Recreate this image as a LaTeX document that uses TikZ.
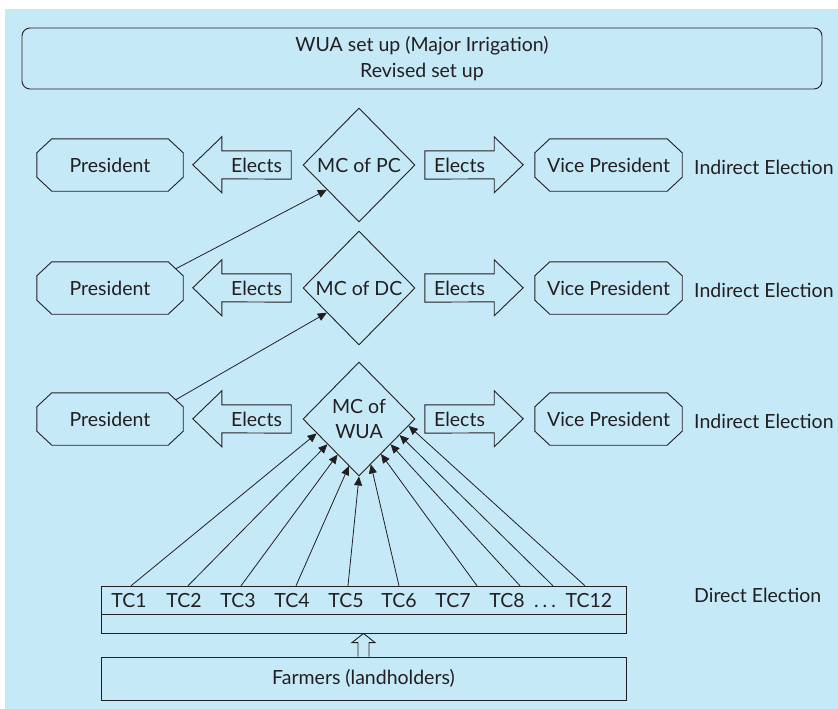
\documentclass[tikz,border=0pt]{standalone}
\usepackage{fontspec}
\setmainfont{Lato}
\usetikzlibrary{calc,shapes.geometric,arrows.meta}

\definecolor{bgblue}{RGB}{198,233,248}
\definecolor{ink}{RGB}{35,31,32}

% octagonal box drawn around a rectangular node
\newcommand\octbox[1]{%
  \draw[outline] ([xshift=15pt]#1.north west) -- ([xshift=-15pt]#1.north east)
    -- ([yshift=-14pt]#1.north east) -- ([yshift=14pt]#1.south east)
    -- ([xshift=-15pt]#1.south east) -- ([xshift=15pt]#1.south west)
    -- ([yshift=14pt]#1.south west) -- ([yshift=-14pt]#1.north west) -- cycle;}

% block arrow pointing left, built on the label node
\newcommand\leftblock[1]{%
  \draw[outline] (#1.north east) -- (#1.north west) -- ++(0,-14) -- ++(-29,28)
    -- ++(29,28) -- ++(0,-14) -- (#1.south east) -- cycle;}
% block arrow pointing right, built on the label node
\newcommand\rightblock[1]{%
  \draw[outline] (#1.north west) -- (#1.north east) -- ++(0,-14) -- ++(29,28)
    -- ++(-29,28) -- ++(0,-14) -- (#1.south west) -- cycle;}

\begin{document}
\begin{tikzpicture}[x=1pt,y=-1pt,
  every node/.style={text=ink,font=\fontsize{19.5}{22}\selectfont},
  outline/.style={draw=ink,line width=0.9pt,line join=miter},
  person/.style={minimum width=146pt,minimum height=52pt,inner sep=0pt,text height=14pt,text depth=0pt},
  blocklabel/.style={minimum width=69pt,minimum height=28pt,inner sep=0pt},
  council/.style={diamond,draw=ink,line width=0.9pt,minimum width=112pt,minimum height=114pt,inner sep=0pt},
  tclabel/.style={minimum height=28pt,inner sep=0pt,text height=14pt,text depth=0pt},
  conn/.style={draw=ink,line width=0.8pt,-{Triangle[length=9pt,width=8pt]}},
  note/.style={anchor=west,inner sep=0pt}]

\useasboundingbox (0,0) rectangle (838,709);
\fill[bgblue] (5,9) rectangle (838,709);

% heading
\node[draw=ink,line width=0.9pt,rounded corners=8pt,minimum width=800pt,minimum height=61pt,
      align=center,font=\fontsize{19.5}{26}\selectfont] (title) at (422,58.5)
  {WUA set up (Major Irrigation)\\Revised set up};

% three levels of management committees
\foreach \r/\yc in {1/165,2/288,3/419} {
  \node[person] (p\r) at (110,\yc) {President};
  \octbox{p\r}
  \node[blocklabel] (el\r) at (256.5,\yc) {Elects};
  \leftblock{el\r}
  \node[blocklabel] (er\r) at (459.5,\yc) {Elects};
  \rightblock{er\r}
  \node[person,minimum width=147pt] (v\r) at (608.5,\yc) {Vice President};
  \octbox{v\r}
  \node[note] (ie\r) at (694,\yc+2) {Indirect Election};
}
\node[council,label={[text=ink]center:MC of PC}] (d1) at (359,165) {};
\node[council,label={[text=ink]center:MC of DC}] (d2) at (359,288) {};
\node[council,label={[text=ink,align=center,font=\fontsize{19.5}{25}\selectfont]center:MC of\\WUA}] (d3) at (359,419) {};

% presidents of lower levels sit on the committee above
\draw[conn] ([xshift=-7.5pt,yshift=-7pt]p2.north east) -- ($(d1.west)!0.43!(d1.south)$);
\draw[conn] ([xshift=-7.5pt,yshift=-7pt]p3.north east) -- ($(d2.west)!0.43!(d2.south)$);

% territorial constituencies
\node[draw=ink,line width=0.9pt,minimum width=525pt,minimum height=47pt,inner sep=0pt] (tcbox) at (363.5,609.5) {};
\draw[ink,line width=1.8pt] ([yshift=-29pt]tcbox.north west) -- ([yshift=-29pt]tcbox.north east);
\foreach \n/\x in {1/129,2/184,3/238,4/292,5/346,6/399,7/453,8/507,12/589}
  \node[tclabel] (tc\n) at (\x,600) {TC\n};
\node[tclabel] (tcdots) at (545,600) {.\hspace{4pt}.\hspace{4pt}.};
\node[note] (de) at (694,595) {Direct Election};

% direct election of the WUA managing committee
\draw[conn] ([xshift=2pt]tc1.north) -- ($(d3.west)!0.25!(d3.south)$);
\draw[conn] ([xshift=4pt]tc2.north) -- ($(d3.west)!0.44!(d3.south)$);
\draw[conn] ([xshift=3pt]tc3.north) -- ($(d3.west)!0.62!(d3.south)$);
\draw[conn] ([xshift=4pt]tc4.north) -- ($(d3.west)!0.82!(d3.south)$);
\draw[conn] ([xshift=2pt]tc5.north) -- (d3.south);
\draw[conn] (tc6.north) -- ($(d3.south)!0.21!(d3.east)$);
\draw[conn] ([xshift=24pt]tc7.north) -- ($(d3.south)!0.39!(d3.east)$);
\draw[conn] ([xshift=13pt]tc8.north) -- ($(d3.south)!0.56!(d3.east)$);
\draw[conn] ([xshift=8pt]tcdots.north) -- ($(d3.south)!0.72!(d3.east)$);
\draw[conn] ([xshift=-4pt]tc12.north) -- ($(d3.south)!0.88!(d3.east)$);

% farmers
\node[draw=ink,line width=0.9pt,minimum width=525pt,minimum height=43pt,inner sep=0pt] (farm) at (363.5,678.5) {Farmers (landholders)};
\draw[outline] ([xshift=-5.5pt]farm.north) -- ([xshift=-5.5pt,yshift=14pt]farm.north)
  -- ([xshift=-11.5pt,yshift=14pt]farm.north) -- (tcbox.south)
  -- ([xshift=11.5pt,yshift=14pt]farm.north) -- ([xshift=5.5pt,yshift=14pt]farm.north)
  -- ([xshift=5.5pt]farm.north);
\end{tikzpicture}
\end{document}
